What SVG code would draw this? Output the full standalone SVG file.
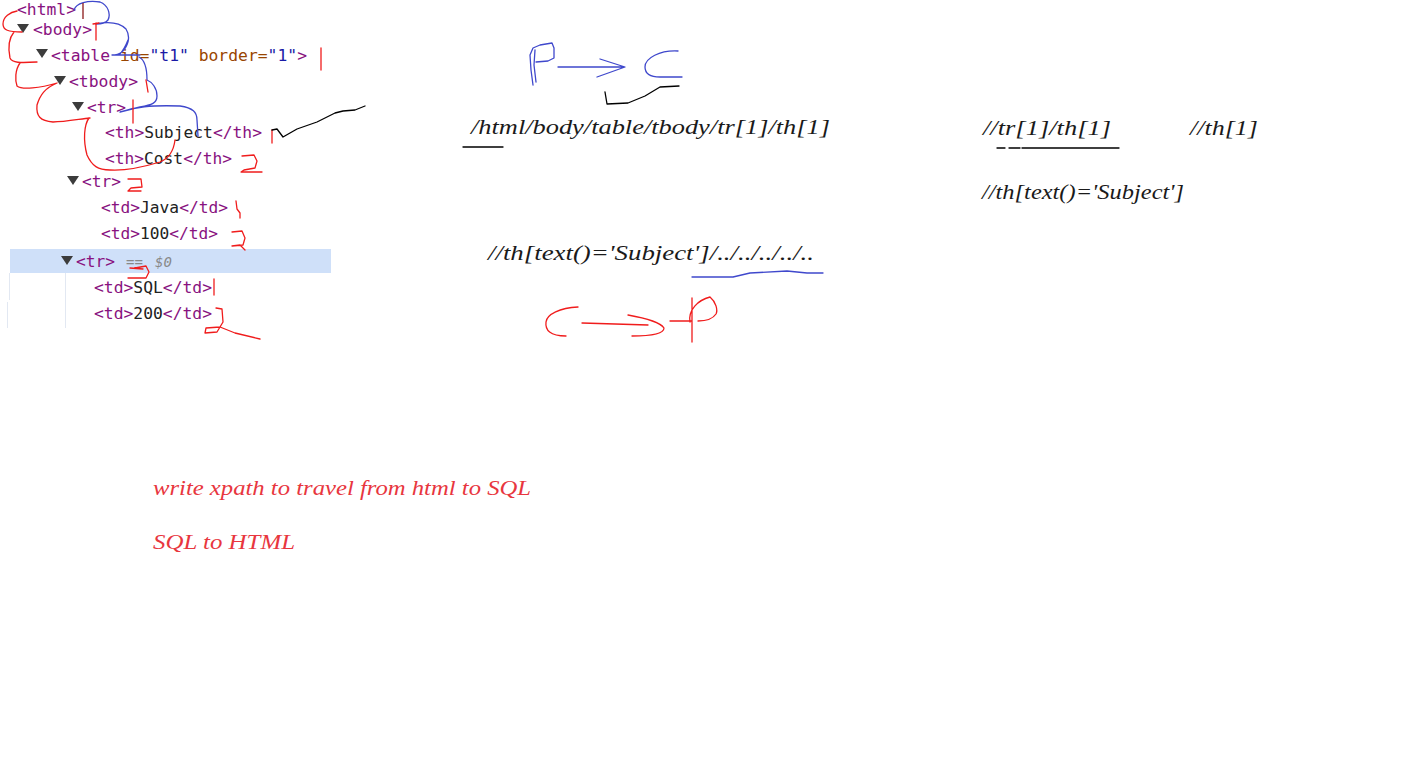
<svg xmlns="http://www.w3.org/2000/svg" width="1406" height="773" viewBox="0 0 1406 773">
<style>
.dom{font-family:"DejaVu Sans Mono","Liberation Mono",monospace;font-size:15.5px}
.tag{fill:#881280}
.an{fill:#994500}
.av{fill:#1a1aa6}
.tx{fill:#222}
.tri{fill:#3c3c3c}
.math{font-family:"Liberation Serif","DejaVu Serif",serif;font-style:italic;font-size:21px;fill:#1a1a1a}
.rtx{font-family:"Liberation Serif","DejaVu Serif",serif;font-style:italic;font-size:22px;fill:#e8363e}
.red{fill:none;stroke:#f01c1c;stroke-width:1.3;stroke-linejoin:round;stroke-linecap:round}
.blue{fill:none;stroke:#3f48cc;stroke-width:1.3;stroke-linejoin:round;stroke-linecap:round}
.blk{fill:none;stroke:#000;stroke-width:1.3;stroke-linejoin:round;stroke-linecap:round}
</style>
<rect width="1406" height="773" fill="#fff"/>
<g id="dom-tree">
<rect x="10" y="249" width="321" height="24" fill="#cfe0f9"/>
<line x1="65.5" y1="273" x2="65.5" y2="328" stroke="#e2e8f2" stroke-width="1"/>
<line x1="9.5" y1="273" x2="9.5" y2="300" stroke="#e2e8f2" stroke-width="1"/>
<line x1="7.5" y1="302" x2="7.5" y2="328" stroke="#e2e8f2" stroke-width="1"/>
<polygon class="tri" points="17,24 29,24 23,33"/>
<polygon class="tri" points="36,49 48,49 42,58"/>
<polygon class="tri" points="54,76 66,76 60,85"/>
<polygon class="tri" points="72,102 84,102 78,111"/>
<polygon class="tri" points="67,176 79,176 73,185"/>
<polygon class="tri" points="61,256 73,256 67,265"/>
<g class="dom" xml:space="preserve">
<text x="17" y="15" textLength="59" lengthAdjust="spacingAndGlyphs"><tspan class="tag">&lt;html&gt;</tspan></text>
<text x="33" y="35" textLength="59" lengthAdjust="spacingAndGlyphs"><tspan class="tag">&lt;body&gt;</tspan></text>
<text x="51" y="61" textLength="256" lengthAdjust="spacingAndGlyphs"><tspan class="tag">&lt;table</tspan> <tspan class="an">id=</tspan><tspan class="av">"t1"</tspan> <tspan class="an">border=</tspan><tspan class="av">"1"</tspan><tspan class="tag">&gt;</tspan></text>
<text x="69" y="87" textLength="69" lengthAdjust="spacingAndGlyphs"><tspan class="tag">&lt;tbody&gt;</tspan></text>
<text x="87" y="113" textLength="39" lengthAdjust="spacingAndGlyphs"><tspan class="tag">&lt;tr&gt;</tspan></text>
<text x="105" y="138" textLength="157" lengthAdjust="spacingAndGlyphs"><tspan class="tag">&lt;th&gt;</tspan><tspan class="tx">Subject</tspan><tspan class="tag">&lt;/th&gt;</tspan></text>
<text x="105" y="164" textLength="127" lengthAdjust="spacingAndGlyphs"><tspan class="tag">&lt;th&gt;</tspan><tspan class="tx">Cost</tspan><tspan class="tag">&lt;/th&gt;</tspan></text>
<text x="82" y="187" textLength="39" lengthAdjust="spacingAndGlyphs"><tspan class="tag">&lt;tr&gt;</tspan></text>
<text x="101" y="213" textLength="127" lengthAdjust="spacingAndGlyphs"><tspan class="tag">&lt;td&gt;</tspan><tspan class="tx">Java</tspan><tspan class="tag">&lt;/td&gt;</tspan></text>
<text x="101" y="239" textLength="117" lengthAdjust="spacingAndGlyphs"><tspan class="tag">&lt;td&gt;</tspan><tspan class="tx">100</tspan><tspan class="tag">&lt;/td&gt;</tspan></text>
<text x="76" y="267" textLength="39" lengthAdjust="spacingAndGlyphs"><tspan class="tag">&lt;tr&gt;</tspan></text>
<text x="94" y="293" textLength="118" lengthAdjust="spacingAndGlyphs"><tspan class="tag">&lt;td&gt;</tspan><tspan class="tx">SQL</tspan><tspan class="tag">&lt;/td&gt;</tspan></text>
<text x="94" y="319" textLength="118" lengthAdjust="spacingAndGlyphs"><tspan class="tag">&lt;td&gt;</tspan><tspan class="tx">200</tspan><tspan class="tag">&lt;/td&gt;</tspan></text>
</g>
<text x="126" y="267" font-family="DejaVu Sans Mono, monospace" font-size="14" fill="#888">==</text>
<text x="155" y="267" font-family="DejaVu Sans Mono, monospace" font-size="14" font-style="italic" fill="#888">$0</text>
</g>
<g id="xpaths">
<text class="math" x="471" y="134" textLength="359" lengthAdjust="spacingAndGlyphs">/html/body/table/tbody/tr[1]/th[1]</text>
<text class="math" x="983" y="135" textLength="128" lengthAdjust="spacingAndGlyphs">//tr[1]/th[1]</text>
<text class="math" x="1190" y="135" textLength="68" lengthAdjust="spacingAndGlyphs">//th[1]</text>
<text class="math" x="982" y="199" textLength="202" lengthAdjust="spacingAndGlyphs">//th[text()='Subject']</text>
<text class="math" x="488" y="260" textLength="326" lengthAdjust="spacingAndGlyphs">//th[text()='Subject']/../../../../..</text>
<text class="rtx" x="153" y="495" textLength="378" lengthAdjust="spacingAndGlyphs">write xpath to travel from html to SQL</text>
<text class="rtx" x="153" y="549" textLength="142" lengthAdjust="spacingAndGlyphs">SQL to HTML</text>
</g>
<g id="strokes">
<path class="blue" d="M74,10 C76,3 88,0 100,2 C108,5 111,14 108,20 C105,24 99,24 96,24 C106,22 118,21 126,29 C131,37 128,46 122,52 C118,55 114,55 112,55 L140,55 M128,40 C125,48 122,52 119,55 M139,57 C145,60 147,68 147,80 C152,82 157,88 157,96 C157,103 152,105 140,107 L120,112 C135,107 150,105 180,106 C193,108 197,112 197,120 L198,136"/>
<path class="red" d="M17,11 C10,12 3,17 3,24 C3,30 8,32 22,32 M14,32 C9,38 8,48 10,58 C12,63 20,63 37,62 M20,63 C15,70 15,80 17,86 C22,90 40,88 57,83 M57,83 C45,88 40,95 37,105 C36,116 40,121 53,122 C65,122 80,119 90,118 M89,118 C84,125 83,140 87,155 C92,166 98,170 110,170 C125,171 140,168 160,162 C170,158 174,148 175,140"/>
<path d="M83,3 L83,19" stroke="#8b1a1a" stroke-width="1.3" fill="none"/>
<path class="red" d="M96,23 L96,40 M93,24 L99,23"/>
<path class="red" d="M321,48 L321,70"/>
<path class="red" d="M146,80 L148,92"/>
<path class="red" d="M133,100 L133,123"/>
<path class="red" d="M272,130 L272,143"/>
<path class="red" d="M242,156 L254,155 L257,161 L255,168 L244,170 L241,172 L262,172"/>
<path class="red" d="M128,179 L141,179 L142,187 L131,188 L128,191 L141,191"/>
<path class="red" d="M236,201 L237,209 L240,213 L240,218"/>
<path class="red" d="M232,232 L242,231 L245,238 L243,245 L232,246 L240,245 L245,250"/>
<path class="red" d="M130,268 L143,269 M135,268 L146,266 L149,272 L146,278 L128,278"/>
<path class="red" d="M214,279 L214,295"/>
<path class="red" d="M216,308 L222,309 L223,322 L217,332 L205,333 L206,328 L220,327 L235,333 L260,339"/>
<path class="blk" d="M272,130 L277,129 L283,137 L290,133 L297,129 L317,122 L335,113 L343,111 L355,110 L365,106"/>
<path class="blue" d="M533,85 L531,70 L530,55 L533,48 L540,45 L552,43 L554,48 L554,58 L548,61 L536,62 M536,82 L534,65 L535,50"/>
<path class="blue" d="M558,67 L623,67 M600,59 L625,67 L597,77"/>
<path class="blue" d="M678,51 C660,50 645,58 645,67 C645,73 650,77 660,77 L682,77"/>
<path class="blk" d="M605,92 L607,104 L628,103 L645,96 L660,87 L679,86"/>
<path class="blk" d="M463,147 L503,147"/>
<path class="blk" d="M997,148 L1005,148 M1009,148 L1020,148 M1022,148 L1119,148"/>
<path class="blue" d="M692,277 L733,277 L750,273 L787,271 L807,273 L823,273"/>
<path class="red" d="M578,307 C560,308 547,314 546,322 C545,330 550,336 566,336"/>
<path class="red" d="M582,323 L648,325 M628,315 C645,318 660,322 664,328 C664,334 650,336 632,336"/>
<path class="red" d="M670,321 L692,321 M692,298 L692,342 M690,322 C688,310 698,300 710,297 C716,302 718,310 716,314 C712,320 705,321 698,321"/>
</g>
</svg>
